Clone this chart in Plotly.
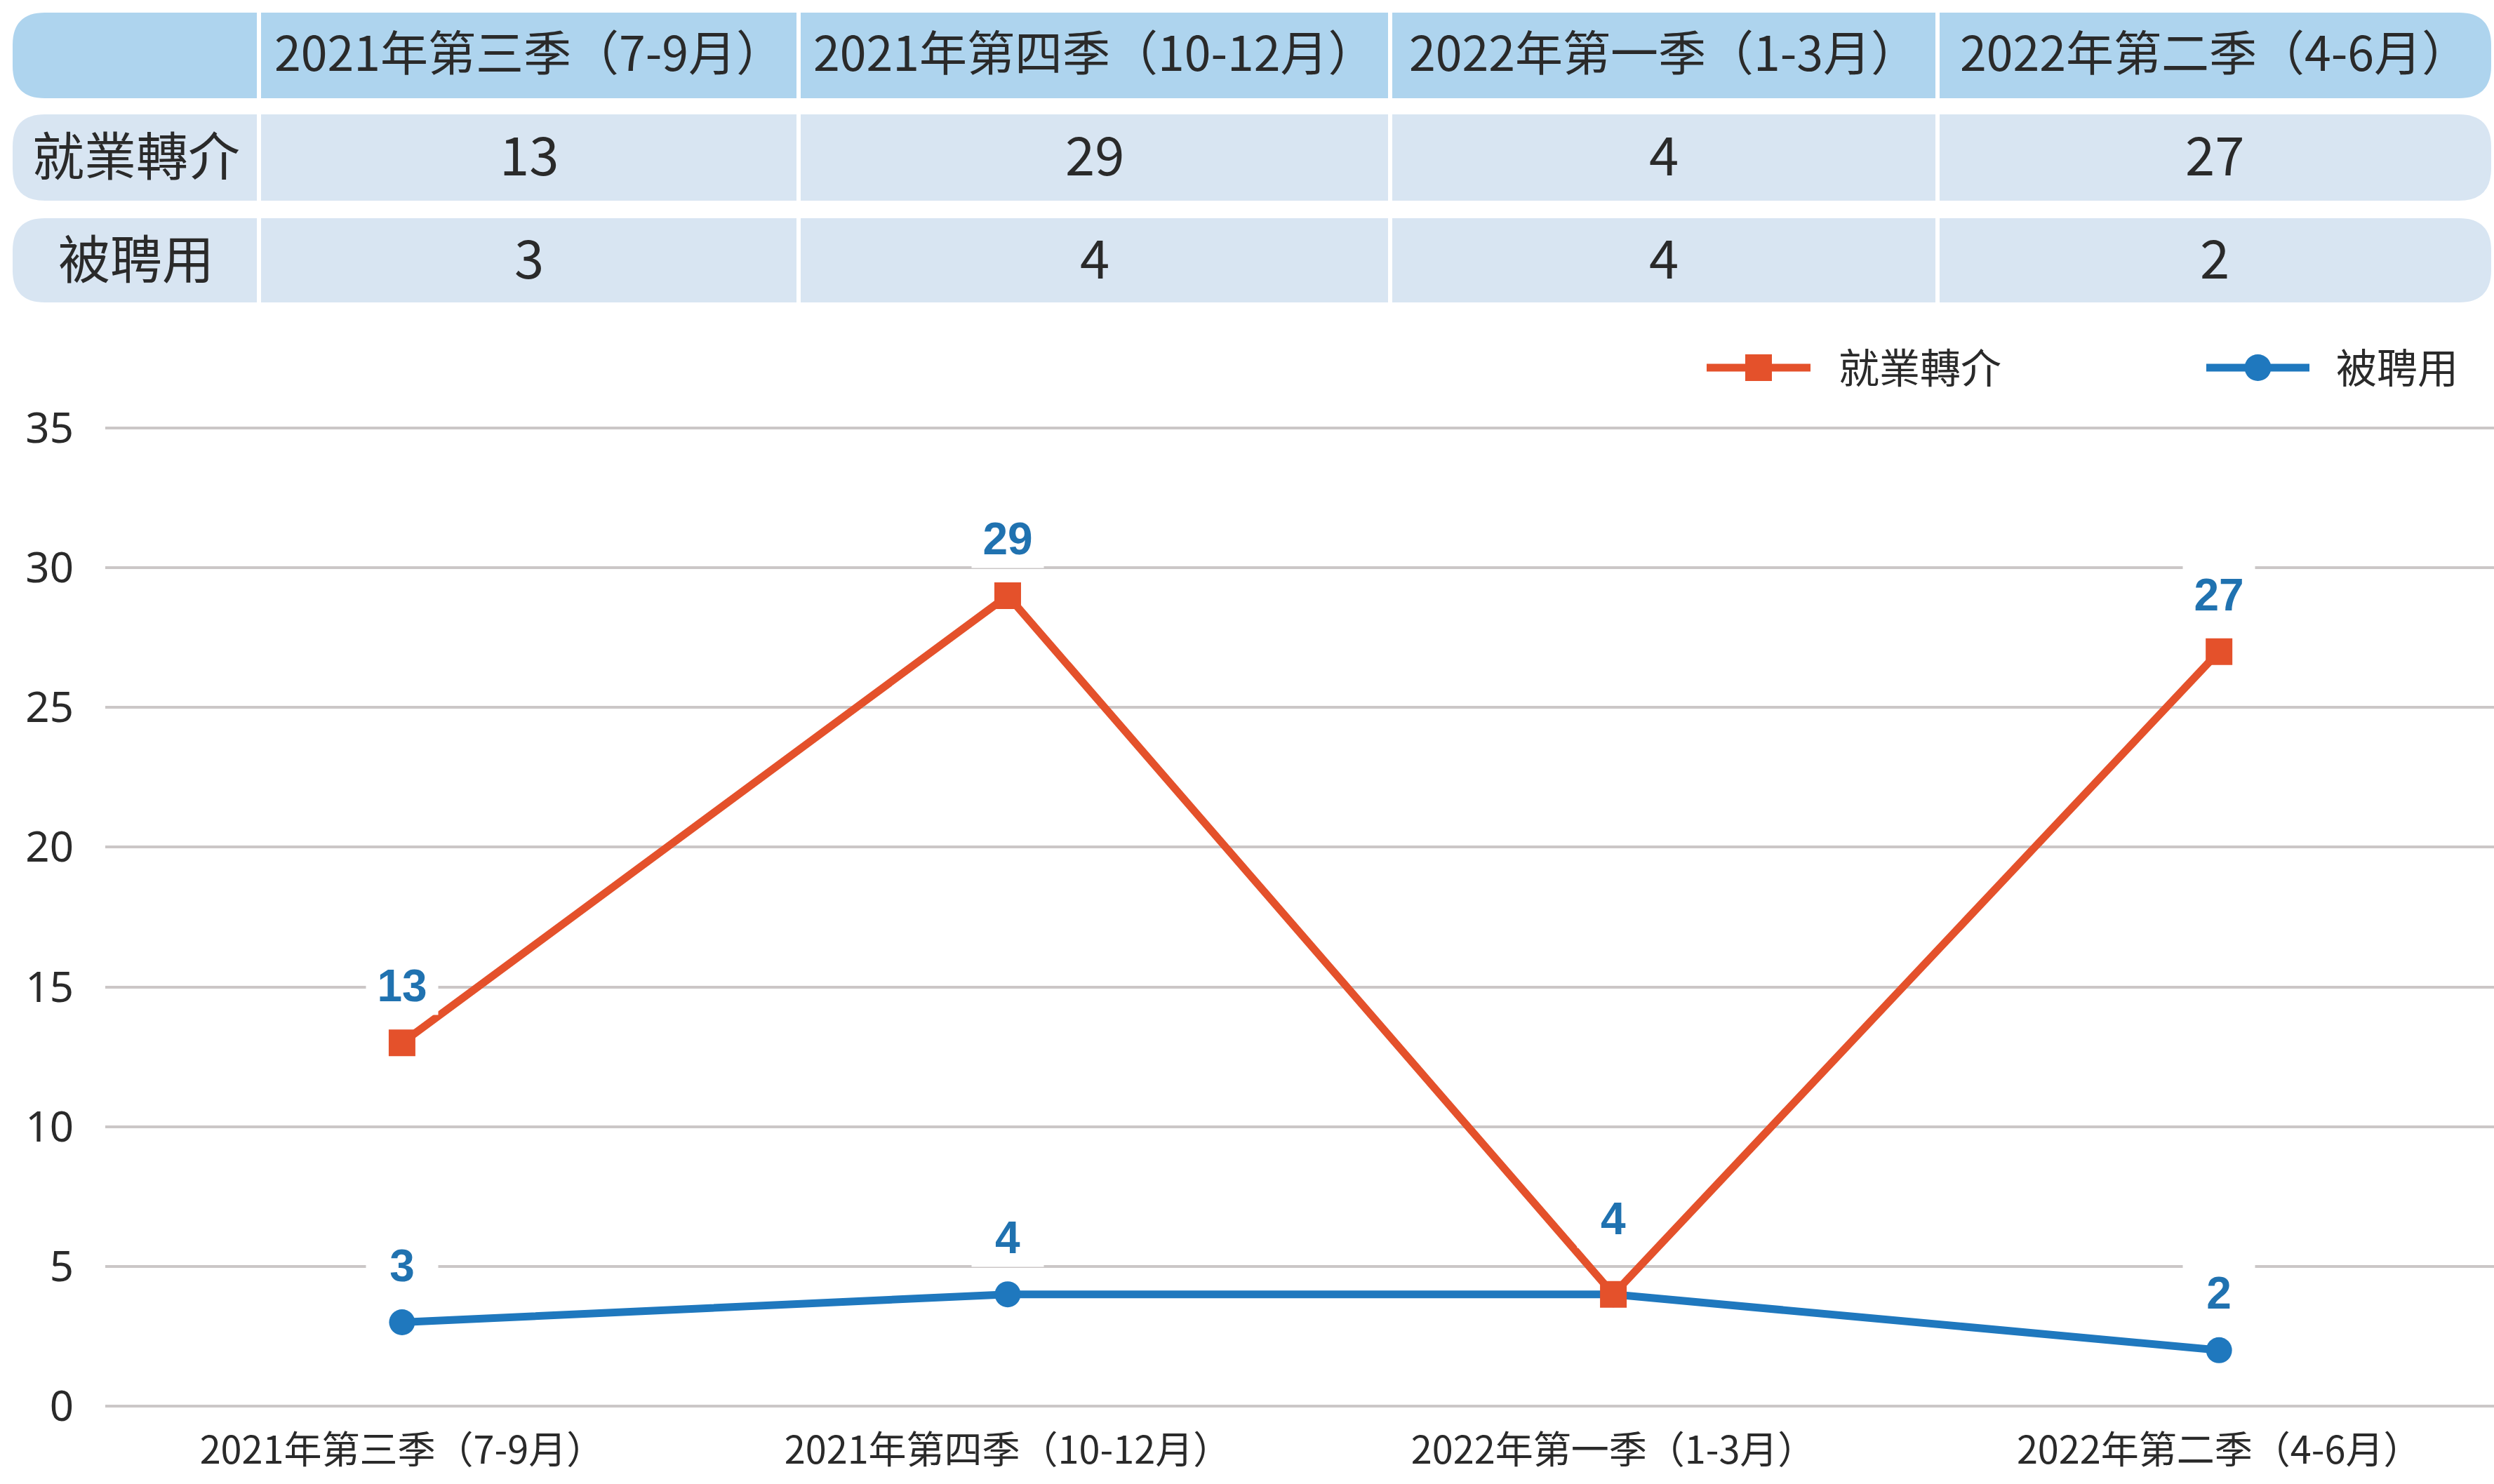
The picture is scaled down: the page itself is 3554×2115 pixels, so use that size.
import plotly.graph_objects as go

W, H = 3554, 2115

# ---------------- data ----------------
quarters = ["2021年第三季（7-9月）", "2021年第四季（10-12月）",
            "2022年第一季（1-3月）", "2022年第二季（4-6月）"]
series_names = ["就業轉介", "被聘用"]
referrals = [13, 29, 4, 27]
hired = [3, 4, 4, 2]
y_ticks = [0, 5, 10, 15, 20, 25, 30, 35]

# ---------------- style ----------------
ORANGE = "#E4512B"
BLUE = "#1F78BE"
LABEL_BLUE = "#2072B0"
HEADER_FILL = "#AED4EE"
BODY_FILL = "#D8E5F2"
TEXT = "#2A2A2A"
GRID = "#CBC7C7"
CJK = "Noto Sans CJK TC"


def px(x):
    return x / W


def py(y):
    return 1 - y / H


fig = go.Figure()

# blue first so the orange marker sits on top where they meet
fig.add_trace(go.Scatter(
    x=quarters, y=hired, mode="lines+markers", name=series_names[1],
    line=dict(color=BLUE, width=11),
    marker=dict(symbol="circle", size=37, color=BLUE),
    showlegend=False, cliponaxis=False, hoverinfo="skip"))
fig.add_trace(go.Scatter(
    x=quarters, y=referrals, mode="lines+markers", name=series_names[0],
    line=dict(color=ORANGE, width=11),
    marker=dict(symbol="square", size=38, color=ORANGE),
    showlegend=False, cliponaxis=False, hoverinfo="skip"))

# ---------------- data labels ----------------
for i, q in enumerate(quarters):
    overlap = referrals[i] == hired[i]
    for v in sorted(set([referrals[i], hired[i]])):
        fig.add_annotation(
            x=q, y=v, xref="x", yref="y", text=str(v), showarrow=False,
            xanchor="center", yanchor="middle",
            yshift=108 if overlap else 81,
            font=dict(family="Liberation Sans", size=64, color=LABEL_BLUE, weight="bold"),
            bgcolor="white", width=100, height=80)

# ---------------- table ----------------
row_bounds = [(18, 140), (163, 286), (311, 431)]
row_fills = [HEADER_FILL, BODY_FILL, BODY_FILL]
x_left, x_right = 18, 3550
col_edges = [18, 369, 1138, 1981, 2761, 3550]
R = 46


def rounded_path(x0, y0, x1, y1, r):
    pts = [
        ("M", px(x0 + r), py(y0)),
        ("L", px(x1 - r), py(y0)),
        ("Q", px(x1), py(y0), px(x1), py(y0 + r)),
        ("L", px(x1), py(y1 - r)),
        ("Q", px(x1), py(y1), px(x1 - r), py(y1)),
        ("L", px(x0 + r), py(y1)),
        ("Q", px(x0), py(y1), px(x0), py(y1 - r)),
        ("L", px(x0), py(y0 + r)),
        ("Q", px(x0), py(y0), px(x0 + r), py(y0)),
    ]
    s = ""
    for p in pts:
        cmd = p[0]
        nums = p[1:]
        coords = " ".join(f"{nums[k]:.6f},{nums[k+1]:.6f}" for k in range(0, len(nums), 2))
        s += f"{cmd} {coords} "
    return s + "Z"


for (y0, y1), fill in zip(row_bounds, row_fills):
    fig.add_shape(type="path", xref="paper", yref="paper",
                  path=rounded_path(x_left, y0, x_right, y1, R),
                  fillcolor=fill, line=dict(width=0), layer="below")
    for xe in col_edges[1:-1]:
        fig.add_shape(type="line", xref="paper", yref="paper",
                      x0=px(xe), x1=px(xe), y0=py(y0), y1=py(y1),
                      line=dict(color="white", width=6), layer="below")

col_centers = [(col_edges[k] + col_edges[k + 1]) / 2 for k in range(len(col_edges) - 1)]
row_centers = [(a + b) / 2 for a, b in row_bounds]
TXT_SHIFT = 7

for k, q in enumerate(quarters):
    fig.add_annotation(x=px(col_centers[k + 1]), y=py(row_centers[0]),
                       xref="paper", yref="paper", text=q, showarrow=False,
                       xanchor="center", yanchor="middle", yshift=TXT_SHIFT,
                       font=dict(family=CJK, size=68, color=TEXT))

table_rows = [referrals, hired]
for r, (name, vals) in enumerate(zip(series_names, table_rows)):
    yc = py(row_centers[r + 1])
    fig.add_annotation(x=px(col_centers[0]), y=yc, xref="paper", yref="paper",
                       text=name, showarrow=False, xanchor="center", yanchor="middle",
                       yshift=TXT_SHIFT,
                       font=dict(family=CJK, size=74, color=TEXT))
    for k, v in enumerate(vals):
        fig.add_annotation(x=px(col_centers[k + 1]), y=yc, xref="paper", yref="paper",
                           text=str(v), showarrow=False, xanchor="center", yanchor="middle",
                           yshift=TXT_SHIFT,
                           font=dict(family=CJK, size=76, color=TEXT))

# ---------------- legend (drawn) ----------------
legend_items = [
    (series_names[0], ORANGE, "rect", 2432, 2580, 2618),
    (series_names[1], BLUE, "circle", 3144, 3291, 3327),
]
LY = 524
MS = 19
for name, color, sym, lx0, lx1, tx in legend_items:
    fig.add_shape(type="line", xref="paper", yref="paper",
                  x0=px(lx0), x1=px(lx1), y0=py(LY), y1=py(LY),
                  line=dict(color=color, width=11))
    cx = (lx0 + lx1) / 2
    fig.add_shape(type=sym, xref="paper", yref="paper",
                  x0=px(cx - MS), x1=px(cx + MS), y0=py(LY + MS), y1=py(LY - MS),
                  fillcolor=color, line=dict(width=0))
    fig.add_annotation(x=px(tx), y=py(LY), xref="paper", yref="paper",
                       xanchor="left", yanchor="middle", text=name, showarrow=False,
                       yshift=3,
                       font=dict(family=CJK, size=58, color=TEXT))

# ---------------- axes ----------------
Y_TOP_PX, Y_BOT_PX = 610, 2004
unit = (Y_BOT_PX - Y_TOP_PX) / 35.0
pad = 0.1
fig.update_xaxes(
    type="category", categoryorder="array", categoryarray=quarters,
    range=[-0.49, 3.454], domain=[px(150), 1],
    showgrid=False, showline=False, zeroline=False,
    ticks="outside", ticklen=12, tickcolor="rgba(0,0,0,0)",
    tickfont=dict(family=CJK, size=54, color=TEXT), automargin=False)
fig.update_yaxes(
    range=[-pad, 35 + pad],
    domain=[py(Y_BOT_PX + pad * unit), py(Y_TOP_PX - pad * unit)],
    tickmode="array", tickvals=y_ticks,
    showgrid=True, gridcolor=GRID, gridwidth=4,
    zeroline=True, zerolinecolor=GRID, zerolinewidth=4,
    showline=False,
    ticks="outside", ticklen=32, tickcolor="rgba(0,0,0,0)",
    tickfont=dict(family="Noto Sans", size=60, color=TEXT), automargin=False)

fig.update_layout(
    width=W, height=H,
    margin=dict(l=0, r=0, t=0, b=0),
    paper_bgcolor="white", plot_bgcolor="white",
    showlegend=False,
    font=dict(family=CJK, color=TEXT),
)

fig.write_html("out.html", config={"displayModeBar": False},
               post_script="document.body.style.margin='0';document.body.style.overflow='hidden';")
